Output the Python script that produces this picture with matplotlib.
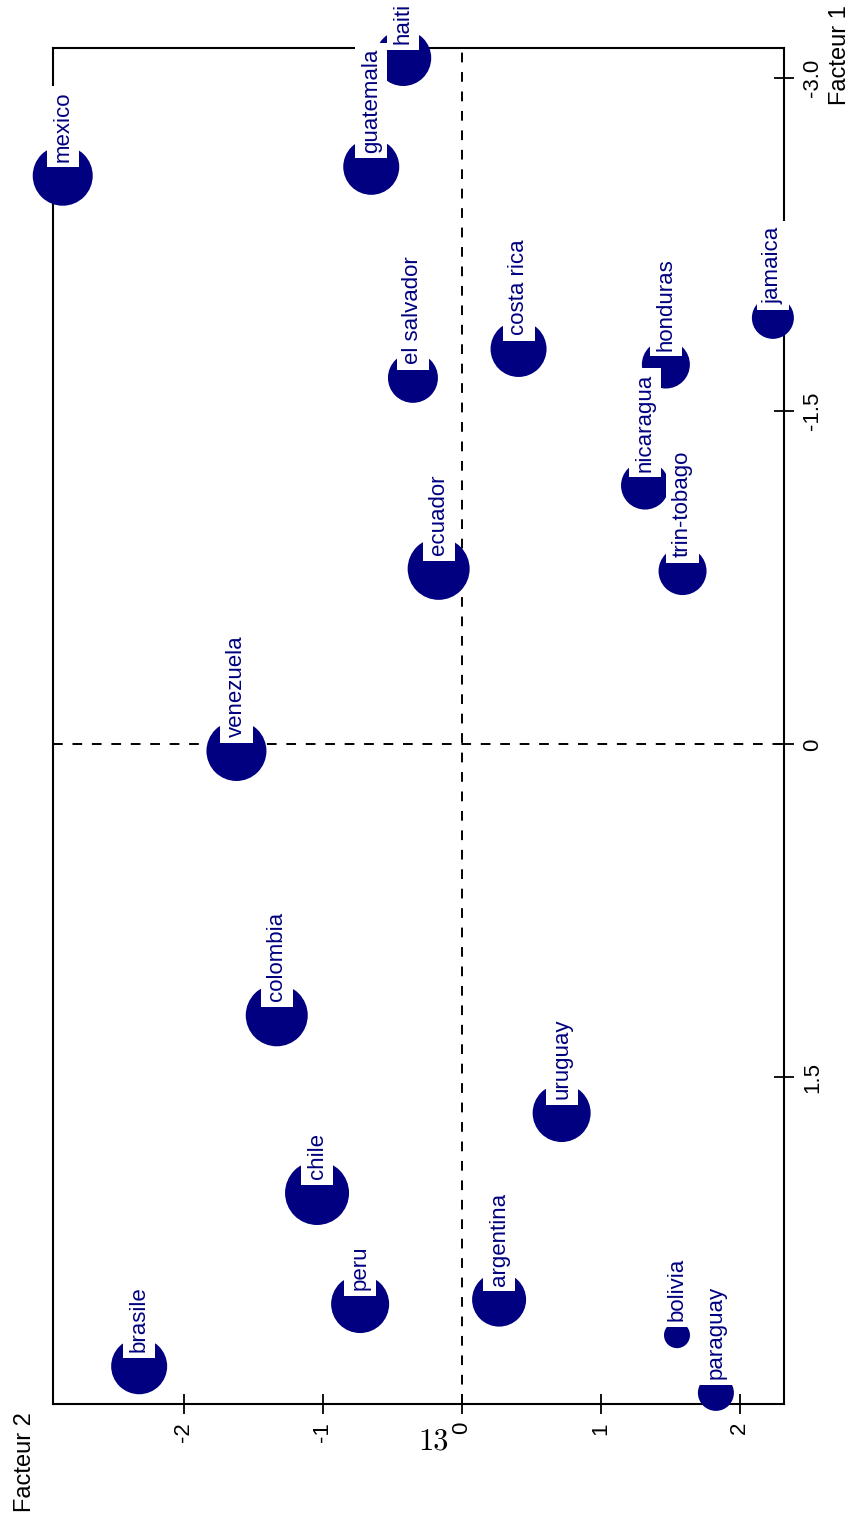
import matplotlib
matplotlib.use("Agg")
import matplotlib.pyplot as plt

# ---- data ----
pays = ["mexico", "haiti", "guatemala", "el salvador", "costa rica", "jamaica",
        "honduras", "nicaragua", "trin-tobago", "ecuador", "venezuela", "colombia",
        "uruguay", "chile", "argentina", "peru", "brasile", "bolivia", "paraguay"]
facteur1 = [-2.56, -3.09, -2.60, -1.65, -1.78, -1.92,
            -1.71, -1.165, -0.78, -0.79, 0.03, 1.22,
            1.66, 2.02, 2.50, 2.52, 2.80, 2.66, 2.92]
facteur2 = [-2.87, -0.42, -0.65, -0.35, 0.41, 2.24,
            1.47, 1.32, 1.59, -0.165, -1.62, -1.33,
            0.72, -1.04, 0.27, -0.73, -2.32, 1.55, 1.83]
poids = [30, 28, 28, 25, 28, 21,
         24, 24, 24, 31, 30, 31,
         29, 32, 27, 29, 28, 13, 18]

ticks_f2 = [-2, -1, 0, 1, 2]
ticks_f1 = [-3.0, -1.5, 0, 1.5]
ticklabels_f1 = ["-3.0", "-1.5", "0", "1.5"]

FONT = ["Liberation Sans", "DejaVu Sans"]
W, H = 856, 1517
DPI = 100
fig = plt.figure(figsize=(W / DPI, H / DPI), dpi=DPI)
ax = fig.add_axes([53 / W, 1 - 1404 / H, (784 - 53) / W, (1404 - 48) / H])

NAVY = "#000080"
ax.set_xlim(-2.94, 2.32)
ax.set_ylim(2.97, -3.135)

ax.axvline(0, color="black", lw=1.4, ls=(0, (5, 5)), zorder=1)
ax.axhline(0, color="black", lw=1.4, ls=(0, (5, 5)), zorder=1)

sizes = [(2 * r * 72 / DPI) ** 2 for r in poids]
ax.scatter(facteur2, facteur1, s=sizes, color=NAVY, linewidths=0, zorder=5, clip_on=False)

for name, x, y in zip(pays, facteur2, facteur1):
    ax.annotate(name, (x, y), xytext=(0, 10), textcoords="offset points",
                rotation=90, ha="center", va="bottom", fontsize=16,
                family=FONT, color=NAVY, zorder=6,
                annotation_clip=False,
                bbox=dict(boxstyle="square,pad=0.25", fc="white", ec="none"))

for sp in ax.spines.values():
    sp.set_linewidth(1.5)
    sp.set_zorder(3)

ax.set_xticks(ticks_f2)
ax.set_xticklabels([str(t) for t in ticks_f2], rotation=90, fontsize=16, family=FONT)
ax.yaxis.tick_right()
ax.set_yticks(ticks_f1)
ax.set_yticklabels(ticklabels_f1, rotation=90, fontsize=16, family=FONT, va="center")
ax.tick_params(direction="inout", length=14, width=1.3, pad=6)

fig.text(840 / W, 1 - 5 / H, "Facteur 1", rotation=90, ha="center", va="top",
         fontsize=17, family=FONT)
fig.text(25 / W, 1 - 1512 / H, "Facteur 2", rotation=90, ha="center", va="bottom",
         fontsize=17, family=FONT)
fig.text(434 / W, 1 - 1442 / H, "13", ha="center", va="center", fontsize=22, family="cmr10")

fig.savefig("out.png", dpi=DPI)
